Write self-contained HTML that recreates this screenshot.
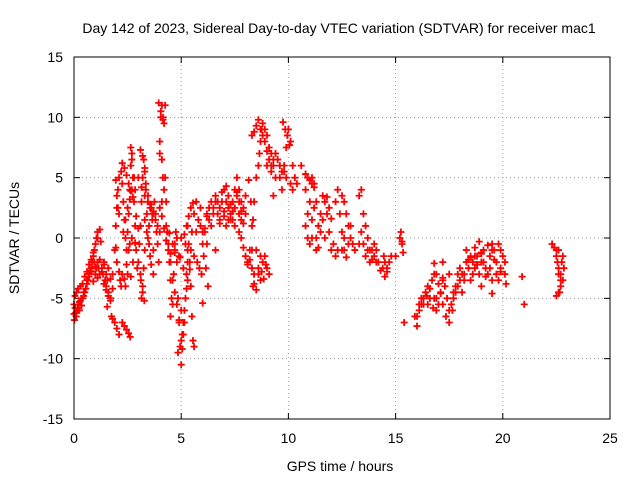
<!DOCTYPE html>
<html><head><meta charset="utf-8"><style>
body{margin:0;background:#fff;width:640px;height:480px;overflow:hidden}
text{font-family:"Liberation Sans",sans-serif;font-size:14px;fill:#000}
</style></head><body>
<svg id="chart" width="640" height="480" xmlns="http://www.w3.org/2000/svg">
<text x="339" y="33" text-anchor="middle">Day 142 of 2023, Sidereal Day-to-day VTEC variation (SDTVAR) for receiver mac1</text>
<text x="340" y="471" text-anchor="middle">GPS time / hours</text>
<text transform="translate(19,238) rotate(-90)" text-anchor="middle">SDTVAR / TECUs</text>
<g id="grid"></g>
<g id="ticks"></g>
<g id="pts"></g>
<rect x="74" y="57" width="536" height="362" fill="none" stroke="#000" stroke-width="1"/>
</svg>
<script>
const xTicks=[0,5,10,15,20,25];
const yTicks=[-15,-10,-5,0,5,10,15];
const times=[0,0.05,0.1,0.15,0.2,0.25,0.3,0.35,0.4,0.45,0.5,0.55,0.6,0.65,0.7,0.75,0.8,0.85,0.9,0.95,1.0,1.05,1.1,1.0,1.05,1.1,1.15,1.2,1.3,1.35,1.4,1.45,1.5,1.55,1.6,1.7,1.75,1.8,1.9,2.0,2.1,1.8,1.9,1.95,2.0,2.05,2.1,2.2,2.25,2.3,2.35,2.4,2.45,2.5,2.55,2.6,2.65,2.7,2.75,2.8,2.85,2.9,2.95,2.7,2.6,2.5,2.4,3.0,3.05,3.1,3.15,3.2,3.25,3.3,3.35,3.4,3.45,3.3,3.25,3.2,3.15,3.1,3.5,3.55,3.6,3.65,3.7,3.75,3.8,3.85,3.9,3.95,3.7,4.0,4.05,4.1,4.15,4.2,4.25,4.3,4.35,4.4,4.45,4.5,4.55,4.5,4.6,4.65,4.7,4.75,4.8,4.85,4.9,4.95,5.0,5.05,5.1,5.15,5.2,5.25,5.3,5.35,5.4,5.45,5.5,5.55,5.6,5.2,5.3,5.5,5.6,5.7,5.8,5.9,6.0,6.1,6.2,6.3,6.4,6.5,6.6,6.7,6.8,6.9,7.0,7.1,7.2,7.3,7.4,7.5,7.6,7.7,7.8,7.9,8.0,7.1,7.3,7.5,7.7,6.6,6.2,8.0,8.1,8.2,8.3,8.4,8.5,8.6,8.65,8.7,8.75,8.8,8.9,9.0,9.1,9.2,9.3,9.4,9.5,9.6,9.7,9.8,9.9,10.0,10.1,10.2,10.3,10.4,8.5,8.6,8.7,8.8,8.9,9.0,9.1,8.4,8.35,9.3,10.6,10.8,10.9,11.0,11.1,11.2,11.3,11.4,11.5,11.6,11.7,11.8,11.9,12.0,12.1,11.0,11.1,11.3,12.2,12.3,12.4,12.5,12.6,12.7,12.8,12.9,13.0,13.1,12.6,12.5,13.3,13.4,13.5,13.6,13.7,13.8,13.9,14.0,14.1,14.4,14.5,14.6,14.8,15.0,15.2,15.3,15.4,16.0,16.1,16.2,16.3,16.4,16.5,16.6,16.7,16.8,16.9,17.0,17.1,17.2,17.3,17.4,17.5,17.6,17.7,17.8,17.9,18.0,18.1,18.2,18.3,18.4,18.5,18.6,18.7,18.8,18.9,19.0,19.1,19.2,19.3,19.4,19.5,19.6,19.7,19.8,19.9,20.0,20.1,17.2,17.5,16.8,16.5,18.0,18.5,19.0,19.5,20.9,21.0,22.5,22.55,22.6,22.65,22.7,22.75,22.8,22.7,22.6,
0,0.02,0.05,0.08,0.12,0.16,0.2,0.25,0.3,0.35,0.4,0.45,
0.5,0.6,0.7,0.8,0.9,1.0,1.1,1.2,1.25,0.95,
0.6,0.7,0.8,0.9,1.0,1.1,1.2,1.3,1.4,1.5,1.6,1.7,
1.4,1.5,1.55,1.6,1.7,1.8,
2.25,2.35,2.45,2.55,2.62,
1.95,2.0,2.05,2.1,
1.95,2.0,2.1,2.15,2.2,
2.25,2.35,2.45,2.55,2.65,2.75,
2.3,2.4,2.5,2.6,2.7,2.8,2.9,3.0,
2.25,2.35,2.45,2.55,2.65,2.75,2.85,
2.65,2.7,2.8,2.85,
3.1,3.2,3.3,3.35,3.45,3.55,3.65,
3.0,3.15,3.3,3.45,
3.12,3.2,3.28,
3.3,3.4,3.5,3.55,3.6,3.7,
3.6,3.7,3.8,3.9,4.0,4.1,
3.95,4.05,4.15,4.25,
4.0,4.1,4.15,4.2,4.3,
4.0,4.1,4.2,4.3,4.4,4.5,
4.45,4.6,4.7,4.8,4.95,
4.5,4.6,4.7,4.8,4.9,5.0,
4.7,4.9,5.0,5.1,5.3,5.45,
4.85,4.95,5.0,5.05,5.1,5.15,5.2,5.25,5.3,5.4,
5.15,5.25,5.35,5.45,5.55,
5.6,5.7,5.8,5.9,6.0,
5.75,5.85,5.95,
6.05,6.15,6.25,
6.0,
6.1,6.2,6.3,6.4,
6.5,6.6,6.7,6.8,6.9,7.0,7.1,7.2,7.3,7.4,7.5,7.6,7.7,7.8,7.9,8.0,6.8,7.0,7.2,7.4,
7.6,7.7,7.8,
7.8,7.9,8.0,8.1,8.2,8.3,
8.15,8.25,8.35,
8.3,8.4,8.5,8.6,8.7,
8.75,8.85,8.95,
8.3,8.4,8.5,8.6,8.7,8.8,8.9,9.0,9.1,9.2,
9.0,9.2,9.3,9.4,9.5,9.6,9.7,9.8,9.9,10.1,10.2,
9.75,9.85,9.95,10.05,
10.8,10.9,11.0,11.1,11.2,
10.8,10.9,11.0,11.1,11.2,11.3,11.4,11.5,11.6,11.7,
11.8,11.9,12.0,
12.2,12.3,12.4,12.5,12.6,12.7,12.8,12.9,
13.3,13.4,13.5,13.6,13.7,13.8,13.9,14.0,
14.1,14.2,14.3,14.45,
14.5,14.6,14.7,
15.25,15.3,15.35,
15.9,16.0,16.1,16.2,
16.3,16.45,16.6,16.75,16.9,
16.8,16.9,17.0,17.1,17.2,
17.2,17.35,17.5,17.65,17.8,
17.7,17.9,18.1,18.3,18.5,
18.0,18.2,18.4,18.6,18.8,19.0,19.2,19.4,19.6,19.8,18.3,18.7,19.1,19.5,19.9,18.9,
18.7,19.0,19.3,19.6,
19.5,19.7,19.9,20.1,20.15,
22.3,22.4,22.5,22.6,22.7,22.8,22.85,22.5,22.6];
const values=[-6.3,-5.8,-6.5,-6,-5.5,-6,-5.2,-5.6,-5,-4.8,-4.5,-4.2,-3.8,-3.5,-3,-2.7,-2.5,-2,-1.5,-1,-0.5,0,0.5,-3,-2.5,-2,-2.5,-3,-2.5,-3,-2,-3.5,-4,-3.5,-4.5,-5,-6.5,-6.7,-7,-7.5,-8,-3,-1,1,2.5,4,5,5.5,4.5,3,1.5,0,-1,0.5,2,4,6,7,5,3,1,-1,-2.5,0,-0.5,-3,-4,-2,-0.5,1,3,5,6.5,5.5,4,2,0,-1,-2.5,-4,-5,-3,1,2.5,2.5,1.5,2,3,2,0.5,-0.5,-2,-1,7,10,11,10,9.5,5,1,0.5,-0.5,-2,-3.5,-5,-6.5,-5.5,-3,-1,0.5,-2,-5,-7,-9,-10.5,-9.2,-8,-7,-5,-3,-1,-0.5,-2,-4,-6.5,-8.5,-9,-0.5,1,0.5,-1.5,0.5,1.5,1,-0.5,0.5,2,1.5,1,2.5,3,2,1.5,3,4,3,2.5,2,3,4,3.5,2,1.5,2.5,3.5,1,1.5,1,0.5,-1,-0.5,-1.5,-2,-1,1,3,5,6,7,8,9,9.5,9,8.5,7.5,7,6,5,6.5,5,4,5.5,7.5,9,8,6,5,4.5,-1,-2.5,-3.5,-2,-1.5,-2.5,-3,-3,-4,3.5,6,4,2,3,5,4.5,3,1,2,3.5,3,2,0.5,-1,-0.5,-0.5,0,-1,-1.5,-1,2,3.5,3,2,1,0,-0.5,-1,0,-1,-0.5,0.5,-0.5,-1.5,-1,-2,-1,-1.5,-2,-2.5,-2,-2.5,-1.5,-1.5,0,-0.5,-7,-6.5,-6,-5.5,-5,-4.5,-4,-5,-3.5,-3,-5,-5.5,-4.5,-3.5,-4,-5,-6,-5.5,-4.5,-4,-3,-3.5,-4.5,-3,-2,-2.5,-3.5,-2,-2.5,-1.5,-3,-2,-1,-2.5,-3,-1.5,-0.5,-1,-2,-3.5,-2.5,-1.5,-3,-2,-3,-5,-5.5,-2.5,-1.5,-4,-3.5,-3.2,-5.5,-1,-2,-3,-4.5,-3.5,-2,-1.5,-4,-1,
-5.5,-6.8,-4.8,-6.2,-4.5,-5.8,-4.2,-5.3,-4,-5,-3.8,-4.5,
-3.2,-2.8,-2.2,-1.8,-1.2,-0.5,0,0.7,-0.3,-2,
-3.5,-3.2,-2.8,-3.6,-2.4,-3.3,-1.8,-2.8,-2.2,-3,-2.5,-3.4,
-3.8,-4.3,-5.7,-4.8,-5.2,-4.2,
-7,-7.3,-7.6,-7.9,-8.2,
4.8,3.5,2.5,2,
-0.8,-2,-2.8,-3.5,-4,
6.2,5.8,5.2,4.5,3.9,3.4,
0.5,1.5,2.5,3.2,4,3,1.8,0.8,
-3,-3.4,-2.2,-1,-3.2,-2,-0.4,
7.5,6.5,5,4,
7.3,6.8,5.8,4.5,3.5,2.8,2,
5,4.2,3.5,3,
-3.5,-4.5,-5.2,
1.5,0.5,-0.5,-1.5,-2.2,-3,
2.8,2.2,1.5,1,0.5,3,
11.2,10.5,9.8,11,
8,6.5,5,4,3,
2.5,1.8,0.8,-0.2,-1,-1.3,
0.4,-0.5,-1.2,0,-1.6,
-2,-3.5,-4.5,-5.5,-6.8,-6,
-0.5,-1.5,0,-2.5,-2,-1,
-9.5,-9,-8.5,-8,-7,-6,-5,-4.2,-3.5,-2.6,
0.3,1,1.8,2.5,2.9,
2,3,1.5,2.5,0.5,
-2,-2.5,-3,
-1.5,-2.5,-4,
-5.4,
0.8,1.8,2.5,3,
2,3.5,3,2.5,3.8,2.2,4.3,3.5,2.8,1.5,2.5,3.8,3,2.2,1.2,2,1.2,1.8,1.5,2.2,
5,4,3,
0,-0.8,-1.5,-2.2,-1.8,-1,
4.8,3,1.5,
-2.5,-3.8,-4.3,-3,-1.5,
-2.8,-3.4,-2.2,
8.5,8.8,9.3,9.8,9,8.5,8,7.2,6.5,6,
6,5.5,6.5,7,6.5,6,5.5,6,5,4.5,4,
9.6,9,8.5,7.7,
5.3,5,4.8,4.5,4.2,
1,0,-0.5,1.5,2.5,0,-0.8,0.5,1.5,0,
3.4,2.5,1.6,
3,4,2,0.5,-1,-1.6,-0.5,1,
3.5,4,2,1,0,-1,-1.8,-0.5,
-1,-2,-2.7,-1.5,
-3.2,-2.8,-2,
0.5,-0.3,-1.2,
-6.5,-7.3,-5.5,-5,
-5.5,-4.8,-4.2,-5.8,-6,
-2.1,-3,-3.8,-4.6,-3.3,
-5.5,-6.5,-7,-6,-4.5,
-5,-4,-3,-2,-1.6,
-2.5,-3.5,-1.8,-3,-2.2,-1.2,-3.2,-2.5,-1.8,-0.5,-1,-1.5,-2,-1,-2.8,-0.3,
-0.8,-1.3,-0.6,-1.8,
-4.6,-3,-1,-2,-3.8,
-0.5,-0.8,-1.5,-2.5,-3,-3.5,-2.5,-4.8,-4.5];
const NS="http://www.w3.org/2000/svg";
const X=t=>74+t*536/25, Y=v=>238-v*362/30;
const grid=document.getElementById('grid'),ticks=document.getElementById('ticks'),pts=document.getElementById('pts');
function mk(tag,attrs,parent){const e=document.createElementNS(NS,tag);for(const k in attrs)e.setAttribute(k,attrs[k]);parent.appendChild(e);return e;}
xTicks.forEach(t=>{const x=X(t);
 if(t>0&&t<25){const g=mk('line',{x1:x,x2:x,y1:57,y2:419,stroke:'#999','stroke-dasharray':'1,3'},grid);
 
 }
 mk('line',{x1:x,x2:x,y1:419,y2:413,stroke:'#000'},ticks);mk('line',{x1:x,x2:x,y1:57,y2:63,stroke:'#000'},ticks);
 const l=mk('text',{x:x,y:443,'text-anchor':'middle'},ticks);l.textContent=t;
 
 });
yTicks.forEach(v=>{const y=Y(v);
 if(v>-15&&v<15){const g=mk('line',{x1:74,x2:610,y1:y,y2:y,stroke:'#999','stroke-dasharray':'1,3'},grid);
 
 }
 mk('line',{x1:74,x2:80,y1:y,y2:y,stroke:'#000'},ticks);mk('line',{x1:610,x2:604,y1:y,y2:y,stroke:'#000'},ticks);
 const l=mk('text',{x:63,y:y+5,'text-anchor':'end'},ticks);l.textContent=v;
 
 });
let d='';
times.forEach((t,i)=>{const x=X(t),y=Y(values[i]);d+=`M${x-3.5},${y}h7M${x},${y-3.5}v7`;});
const p=mk('path',{d:d,stroke:'#f00','stroke-width':1.8,fill:'none'},pts);


</script>
</body></html>
